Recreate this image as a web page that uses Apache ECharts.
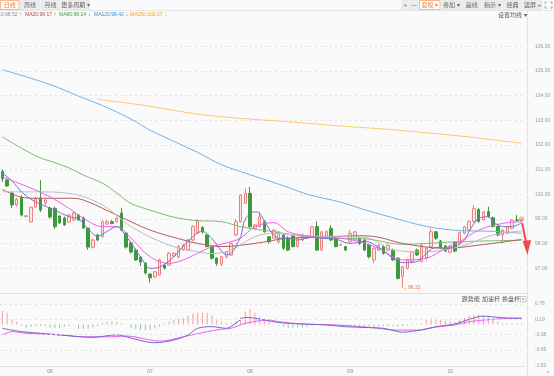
<!DOCTYPE html>
<html><head><meta charset="utf-8">
<script src="https://cdn.jsdelivr.net/npm/echarts@6/dist/echarts.min.js"></script>
<style>html,body{margin:0;padding:0;background:#fafafa;}#c{width:554px;height:376px;}</style>
</head><body><div id="c"></div>
<script>
// ---------- data ----------
const monthLabels = ['05','06','07','08','09','10'];
const monthDays = [10,21,21,21,21,16];
// [open, close, low, high]
const candles = [
[100.93,100.63,100.5,101.0],[100.58,100.34,100.3,100.62],[100.05,99.57,99.45,100.1],[99.57,99.8,99.5,99.85],[99.88,99.16,99.1,99.95],
[99.1,99.13,99.06,99.16],[98.88,99.48,98.85,99.5],[99.48,99.84,99.45,99.9],[99.84,99.36,99.28,100.58],[99.65,99.77,99.55,99.8],
[99.44,99.08,99.0,99.5],[99.43,98.69,98.6,99.5],[99.12,98.84,98.8,99.15],[99.04,98.76,98.72,99.1],[98.88,99.16,98.85,99.2],
[98.96,99.24,98.9,99.3],[99.16,98.96,98.92,99.2],[99.04,98.63,98.6,99.1],[98.63,97.86,97.75,98.65],[97.86,98.15,97.8,98.2],
[98.35,98.15,98.1,98.4],[98.28,98.89,98.25,98.95],[98.8,98.89,98.75,98.95],[98.89,98.82,98.78,98.95],[98.89,99.03,98.85,99.1],
[99.24,98.55,98.5,99.45],[98.43,97.86,97.8,98.45],[98.03,97.66,97.6,98.1],[97.74,97.34,97.3,97.8],[97.46,97.26,97.1,97.5],
[97.21,96.81,96.75,97.25],[96.77,96.61,96.42,96.8],[96.66,96.86,96.6,96.9],[96.73,97.34,96.7,97.4],[97.13,97.01,96.95,97.2],
[97.13,97.62,97.1,97.65],[97.5,97.61,97.45,97.65],[97.47,97.88,97.4,97.95],[97.74,97.94,97.7,98.0],[97.74,98.15,97.7,98.2],
[98.15,98.69,98.1,98.75],[98.42,98.93,98.4,99.0],[98.66,98.48,98.4,98.7],[98.35,97.88,97.85,98.4],[97.88,97.41,97.35,97.9],
[97.41,97.2,97.1,97.45],[97.17,97.47,97.1,97.5],[97.47,97.67,97.4,97.7],[97.54,98.01,97.5,98.05],[98.35,98.89,98.3,99.0],
[98.89,99.97,98.85,100.0],[99.64,100.04,99.6,100.24],[100.04,98.69,98.65,100.3],[98.62,98.76,98.55,98.8],[98.69,99.09,98.65,99.3],
[98.89,98.48,98.45,98.95],[98.28,98.08,98.0,98.3],[98.22,98.55,98.2,98.6],[98.08,98.48,98.0,98.5],[98.35,97.81,97.75,98.4],
[98.22,97.74,97.7,98.3],[98.31,97.88,97.85,98.35],[97.88,98.22,97.85,98.25],[98.15,98.35,98.1,98.4],[98.22,98.31,98.2,98.35],
[98.28,98.69,98.25,98.72],[98.69,97.74,97.7,98.9],[97.74,98.48,97.7,98.5],[98.22,98.48,98.2,98.55],[98.62,98.15,98.1,98.75],
[98.22,97.88,97.85,98.25],[97.94,97.96,97.9,98.0],[97.88,97.74,97.7,97.9],[98.08,98.42,98.05,98.55],[98.15,98.48,98.1,98.5],
[98.22,98.01,97.95,98.25],[98.15,97.74,97.7,98.2],[97.94,97.47,97.4,98.0],[97.34,97.81,97.2,97.85],[97.74,97.94,97.7,98.0],
[97.88,97.61,97.55,97.95],[97.74,97.94,97.7,98.0],[97.74,97.34,97.3,97.8],[97.41,96.59,96.55,97.45],[96.66,97.07,96.22,97.1],
[97.0,97.34,96.95,97.4],[97.27,97.67,97.2,97.7],[97.74,97.54,97.5,97.8],[97.27,97.94,97.25,98.0],[97.41,97.81,97.35,97.85],
[97.88,98.48,97.85,98.62],[98.48,98.22,98.15,98.5],[98.1,97.85,97.8,98.15],[97.9,97.7,97.65,97.95],[97.65,97.88,97.6,97.95],
[98.05,97.7,97.65,98.1],[98.0,98.45,97.95,98.5],[98.42,98.68,98.38,98.72],[98.55,98.9,98.5,98.95],[98.9,99.42,98.85,99.57],
[99.38,98.9,98.85,99.45],[98.98,99.28,98.92,99.32],[99.3,99.1,99.05,99.5],[99.05,98.7,98.65,99.1],[98.7,98.35,98.3,98.72],
[98.35,98.55,98.0,98.6],[98.42,98.69,98.38,98.72],[98.62,98.95,98.58,99.0],[98.96,98.94,98.9,99.16],[98.92,99.0,98.88,99.02]
];
// moving-average lines: [index, value]
const purpleLine = [[0,100.85],[2,100.55],[4,100.1],[6,99.8],[8,99.6],[11,99.36],[14,99.09],[16,99.0],[18,98.6],[20,98.3],[22,98.5],[24,98.69],[26,98.3],[29,97.47],[31,97.0],[33,97.05],[36,97.47],[39,98.1],[42,98.5],[44,98.2],[46,97.7],[47,97.55],[48,97.6],[50,98.28],[51,99.0],[53,99.29],[54,99.23],[56,98.6],[58,98.22],[60,98.22],[62,98.15],[65,98.26],[67,98.22],[70,98.18],[73,98.01],[76,98.1],[79,97.85],[82,97.41],[84,97.23],[87,97.27],[89,97.61],[91,97.85],[93,97.81],[95,97.88],[97,98.15],[98,98.5],[100,99.03],[102,99.09],[103,98.9],[105,98.69],[107,98.69],[109,98.85]];
const magentaLine = [[0,100.71],[7,100.17],[10,99.9],[14,99.43],[17,99.03],[21,98.69],[24,98.69],[27,98.22],[31,97.47],[35,97.2],[38,97.34],[41,97.61],[44,97.88],[46,97.98],[50,98.22],[53,98.69],[57,98.85],[60,98.48],[64,98.31],[67,98.25],[71,98.22],[75,98.08],[79,97.81],[84,97.34],[89,97.41],[93,97.81],[96,98.08],[100,98.55],[105,98.82],[109,98.89]];
const ma10Line = [[0,100.1],[7,100.1],[14,100.04],[21,99.57],[27,98.69],[35,97.94],[41,97.67],[44,97.6],[48,97.74],[53,98.28],[57,98.42],[64,98.3],[71,98.3],[77,98.22],[82,97.74],[89,97.67],[96,97.88],[103,98.35],[109,98.52]];
const ma20Line = [[0,100.2],[4,99.88],[7,99.84],[14,99.84],[17,99.77],[24,99.16],[31,98.55],[38,98.15],[41,98.01],[46,97.88],[53,98.01],[60,98.22],[67,98.26],[75,98.32],[79,98.26],[84,98.01],[93,97.81],[100,97.94],[109,98.17]];
const ma60Line = [[0,102.33],[4,101.87],[8,101.47],[10,101.35],[14,101.07],[17,100.78],[21,100.45],[24,100.05],[27,99.63],[31,99.36],[35,99.12],[38,99.0],[41,98.93],[46,98.89],[50,98.69],[57,98.48],[64,98.28],[71,98.22],[77,98.18],[84,97.97],[89,98.01],[96,98.08],[109,98.14]];
const ma120Line = [[0,105.05],[10,104.45],[17,103.9],[21,103.6],[27,103.05],[31,102.6],[41,101.7],[46,101.2],[53,100.73],[60,100.28],[64,100.0],[71,99.68],[77,99.32],[82,99.05],[89,98.7],[96,98.53],[103,98.5],[109,98.42]];
const ma250Line = [[20,103.85],[30,103.6],[41,103.25],[50,103.08],[60,102.94],[71,102.77],[81,102.63],[92,102.44],[100,102.28],[109,102.07]];
// MACD
const macdHist = [0.5,0.43,0.19,0.1,-0.06,-0.12,-0.09,-0.06,-0.06,-0.06,
 -0.12,-0.12,-0.12,-0.09,-0.05,-0.02,-0.16,-0.16,-0.16,-0.1,
 -0.06,0.06,0.1,0.12,0.1,0.04,-0.02,-0.12,-0.16,-0.21,
 -0.22,-0.21,-0.15,-0.09,0.04,0.1,0.16,0.21,0.25,0.33,
 0.41,0.43,0.43,0.43,0.33,0.21,0.1,0.06,0.04,0.12,
 0.28,0.47,0.56,0.43,0.27,0.21,0.12,0,-0.04,-0.08,
 -0.12,-0.12,-0.1,-0.12,-0.08,-0.04,-0.02,-0.03,-0.02,0.01,
 -0.02,-0.03,-0.04,-0.05,-0.06,-0.06,-0.07,-0.08,-0.08,-0.07,
 -0.07,-0.06,-0.06,-0.08,-0.06,-0.05,-0.03,-0.02,0.05,0.19,
 0.22,0.2,0.19,0.14,0.12,0.1,0.16,0.25,0.33,0.36,
 0.37,0.33,0.3,0.2,0.1,0.03,0.03,0.03,0.03,0.03];
const difLine = [[0,-0.145],[4,-0.27],[8,-0.33],[12,-0.39],[19,-0.48],[24,-0.39],[26,-0.46],[30,-0.64],[32,-0.68],[36,-0.58],[39,-0.39],[41,-0.145],[44,-0.085],[47,-0.145],[49,0.04],[51,0.26],[53,0.23],[57,0.1],[60,0.04],[63,0.015],[68,-0.02],[72,-0.085],[77,-0.12],[80,-0.145],[83,-0.27],[84,-0.29],[87,-0.23],[88,-0.21],[91,-0.085],[95,0.015],[98,0.19],[101,0.31],[104,0.26],[108,0.23],[109,0.23]];
const deaLine = [[0,-0.39],[2,-0.27],[5,-0.33],[12,-0.39],[17,-0.46],[23,-0.46],[26,-0.43],[31,-0.58],[33,-0.62],[38,-0.46],[43,-0.27],[46,-0.18],[48,-0.145],[51,0.04],[56,0.16],[58,0.1],[63,0.015],[70,-0.02],[77,-0.11],[83,-0.21],[87,-0.21],[91,-0.1],[95,-0.02],[98,0.1],[101,0.16],[105,0.21],[109,0.23]];
const macdTicks = [0.76,0.19,-0.38,-0.95,-1.53];
// texts
const legendItems = [
  {t:'MA10:98.52', a:'↑', c:'#8a8a8a', ac:'#8a8a8a', x:17.5, ax:19.5, right:true},
  {t:'MA20:98.17', a:'↑', c:'#b04848', ac:'#d84a4a', x:25, ax:53.5},
  {t:'MA60:98.14', a:'↓', c:'#3f9a3f', ac:'#3f9a3f', x:59, ax:88},
  {t:'MA120:98.42', a:'↓', c:'#3d8fdc', ac:'#3d8fdc', x:94, ax:125.5},
  {t:'MA250:102.07', a:'↓', c:'#f0a020', ac:'#f0a020', x:130, ax:164.5}
];
const leftButtons = [{t:'日线',x0:0,x1:19.5,active:true},{t:'周线',x0:20,x1:40},{t:'月线',x0:40.5,x1:60.5},{t:'更多周期 ▾',x0:61,x1:90}];
const rightButtons = [{t:'+',x0:401,x1:409.5},{t:'—',x0:410,x1:418.5},{t:'复权 ▾',x0:419,x1:440.5,active:true},{t:'叠加 ▾',x0:441,x1:461.5},{t:'画线',x0:462,x1:481.5},{t:'指示 ▾',x0:482,x1:502.5},{t:'经典',x0:503,x1:522},{t:'竖屏 »',x0:522.5,x1:542.5}];
const macdTools = [{t:'跌势能',x:462},{t:'加速杆',x:482},{t:'换盘杆',x:502}];

// ---------- chart ----------
const FONT = '"Liberation Sans","Noto Sans CJK SC",sans-serif';
const categories = [];
monthLabels.forEach((m, k) => { for (let d = 1; d <= monthDays[k]; d++) categories.push(m + '-' + String(d).padStart(2, '0')); });

const chart = echarts.init(document.getElementById('c'));
function maSeries(data, color) {
  return {type:'line', xAxisIndex:0, yAxisIndex:0, data, symbol:'none', showSymbol:false, smooth:0.35,
    lineStyle:{width:1, color}, itemStyle:{color}, z:3, silent:true};
}
chart.setOption({
  animation:false,
  backgroundColor:'#fafafa',
  grid:[
    {left:0, right:30, top:21.6, height:271.4},
    {left:0, right:30, top:294, height:72}
  ],
  xAxis:[
    {type:'category', data:categories, gridIndex:0, axisLine:{show:false}, axisTick:{show:false}, axisLabel:{show:false}, splitLine:{show:false}},
    {type:'category', data:categories, gridIndex:1, axisLine:{show:true, onZero:false, lineStyle:{color:'#e0e0e0'}}, axisTick:{show:false},
      axisLabel:{show:true, interval:(i, v) => v.endsWith('-01') && !v.startsWith(monthLabels[0]), formatter:v => v.slice(0,2), fontSize:5, color:'#888', margin:3, fontFamily:FONT},
      splitLine:{show:false}}
  ],
  yAxis:[
    {type:'value', gridIndex:0, position:'right', min:96, max:107, interval:1, axisLine:{show:false}, axisTick:{show:false},
      axisLabel:{margin:11, fontSize:5, color:'#999', formatter:v => v.toFixed(2), showMinLabel:false, showMaxLabel:false, fontFamily:FONT},
      splitLine:{show:true, showMinLine:false, showMaxLine:false, lineStyle:{color:'#e2e2e2', type:[2,3], width:1}}},
    {type:'value', gridIndex:1, position:'right', min:-1.546, max:1.13, axisLine:{show:false}, axisTick:{show:false, customValues:macdTicks},
      axisLabel:{customValues:macdTicks, margin:11, fontSize:5, color:'#999', formatter:v => v.toFixed(2), fontFamily:FONT},
      splitLine:{show:false}}
  ],
  series:[
    {type:'candlestick', xAxisIndex:0, yAxisIndex:0, data:candles, barWidth:3, z:2, silent:true,
      itemStyle:{color:'#fde8e8', color0:'#3c9a3c', borderColor:'#ee8080', borderColor0:'#3c9a3c', borderWidth:1}},
    maSeries(ma250Line, '#fccb6e'),
    maSeries(ma120Line, '#70b2ec'),
    maSeries(ma60Line, '#7cbd72'),
    maSeries(ma20Line, '#b45c5c'),
    maSeries(ma10Line, '#bdbdbd'),
    maSeries(magentaLine, '#f25ef2'),
    maSeries(purpleLine, '#7a72d2'),
    {type:'bar', xAxisIndex:1, yAxisIndex:1, data:macdHist, barWidth:1, silent:true,
      itemStyle:{color:p => p.value >= 0 ? '#f2a0a0' : '#8dc88d'}},
    {type:'line', xAxisIndex:1, yAxisIndex:1, data:deaLine, symbol:'none', smooth:0.35, lineStyle:{width:1, color:'#f060f0'}, silent:true,
      markLine:{silent:true, symbol:'none', label:{show:false}, animation:false,
        lineStyle:{color:'#e2e2e2', type:[2,3], width:1}, data:macdTicks.slice(0,4).map(v => ({yAxis:v}))}},
    {type:'line', xAxisIndex:1, yAxisIndex:1, data:difLine, symbol:'none', smooth:0.35, lineStyle:{width:1, color:'#7068cc'}, silent:true}
  ]
});

// ---------- decorations ----------
const g = [];
function T(x, y, text, fill, size, align) {
  g.push({type:'text', x, y, silent:true, z:20, style:{text, fill, fontSize:size, fontFamily:FONT, align:align || 'left', verticalAlign:'middle'}});
}
function L(x1, y1, x2, y2, stroke, w) {
  g.push({type:'line', silent:true, z:15, shape:{x1, y1, x2, y2}, style:{stroke, lineWidth:w || 1}});
}
// toolbar
L(0, 10.5, 554, 10.5, '#e6e6e6');
leftButtons.concat(rightButtons).forEach(b => {
  g.push({type:'rect', silent:true, z:16, shape:{x:b.x0 + 0.5, y:0.5, width:b.x1 - b.x0 - 1, height:9},
    style:{fill:b.active ? '#ffffff' : '#ececec', stroke:b.active ? '#f3a36b' : '#e6e6e6', lineWidth:0.8}});
  T((b.x0 + b.x1) / 2, 5, b.t, b.active ? '#f07a30' : '#666', 6, 'center');
});
// fullscreen icon
[[545,4,545,2,547,2],[550,2,552,2,552,4],[545,6,545,8,547,8],[550,8,552,8,552,6]].forEach(p => {
  g.push({type:'polyline', silent:true, z:16, shape:{points:[[p[0],p[1]],[p[2],p[3]],[p[4],p[5]]]}, style:{stroke:'#999', lineWidth:0.8, fill:null}});
});
// legend
legendItems.forEach(it => {
  T(it.x, 14.5, it.t, it.c, 5, it.right ? 'right' : 'left');
  T(it.ax, 14.5, it.a, it.ac, 6, 'left');
});
T(498, 15, '设置均线 ▾', '#555', 6, 'left');
// panel borders
L(0, 293.5, 527, 293.5, '#dedede');
L(527.5, 10.5, 527.5, 376, '#e2e2e2');
macdTools.forEach(m => T(m.x, 299.5, m.t, '#555', 6, 'left'));
g.push({type:'rect', silent:true, z:16, shape:{x:520.5, y:296.5, width:5.5, height:5.5}, style:{fill:'#fff', stroke:'#aaa', lineWidth:0.6}});
T(523.3, 299.3, '×', '#888', 5, 'center');
T(548, 371, '»', '#aaa', 6, 'center');
// low marker
let lowIdx = 0;
candles.forEach((c, i) => { if (c[2] < candles[lowIdx][2]) lowIdx = i; });
const lowPx = chart.convertToPixel({gridIndex:0}, [lowIdx, candles[lowIdx][2]]);
T(lowPx[0] + 0.5, lowPx[1], '←' + candles[lowIdx][2].toFixed(2), '#f07040', 5, 'left');
// last-price circle and arrow
const lastIdx = candles.length - 1;
const lastPx = chart.convertToPixel({gridIndex:0}, [lastIdx, candles[lastIdx][1]]);
g.push({type:'circle', silent:true, z:16, shape:{cx:lastPx[0], cy:lastPx[1], r:2.2}, style:{fill:'none', stroke:'#ee8080', lineWidth:0.8}});
L(lastPx[0] + 0.5, lastPx[1] + 4, lastPx[0] + 4.3, lastPx[1] + 23, '#f04a4a', 2);
g.push({type:'polygon', silent:true, z:16, shape:{points:[[lastPx[0] + 1, lastPx[1] + 22], [lastPx[0] + 9.5, lastPx[1] + 21], [lastPx[0] + 5.8, lastPx[1] + 36]]}, style:{fill:'#f04a4a'}});
chart.setOption({graphic:g});
</script>
</body></html>
